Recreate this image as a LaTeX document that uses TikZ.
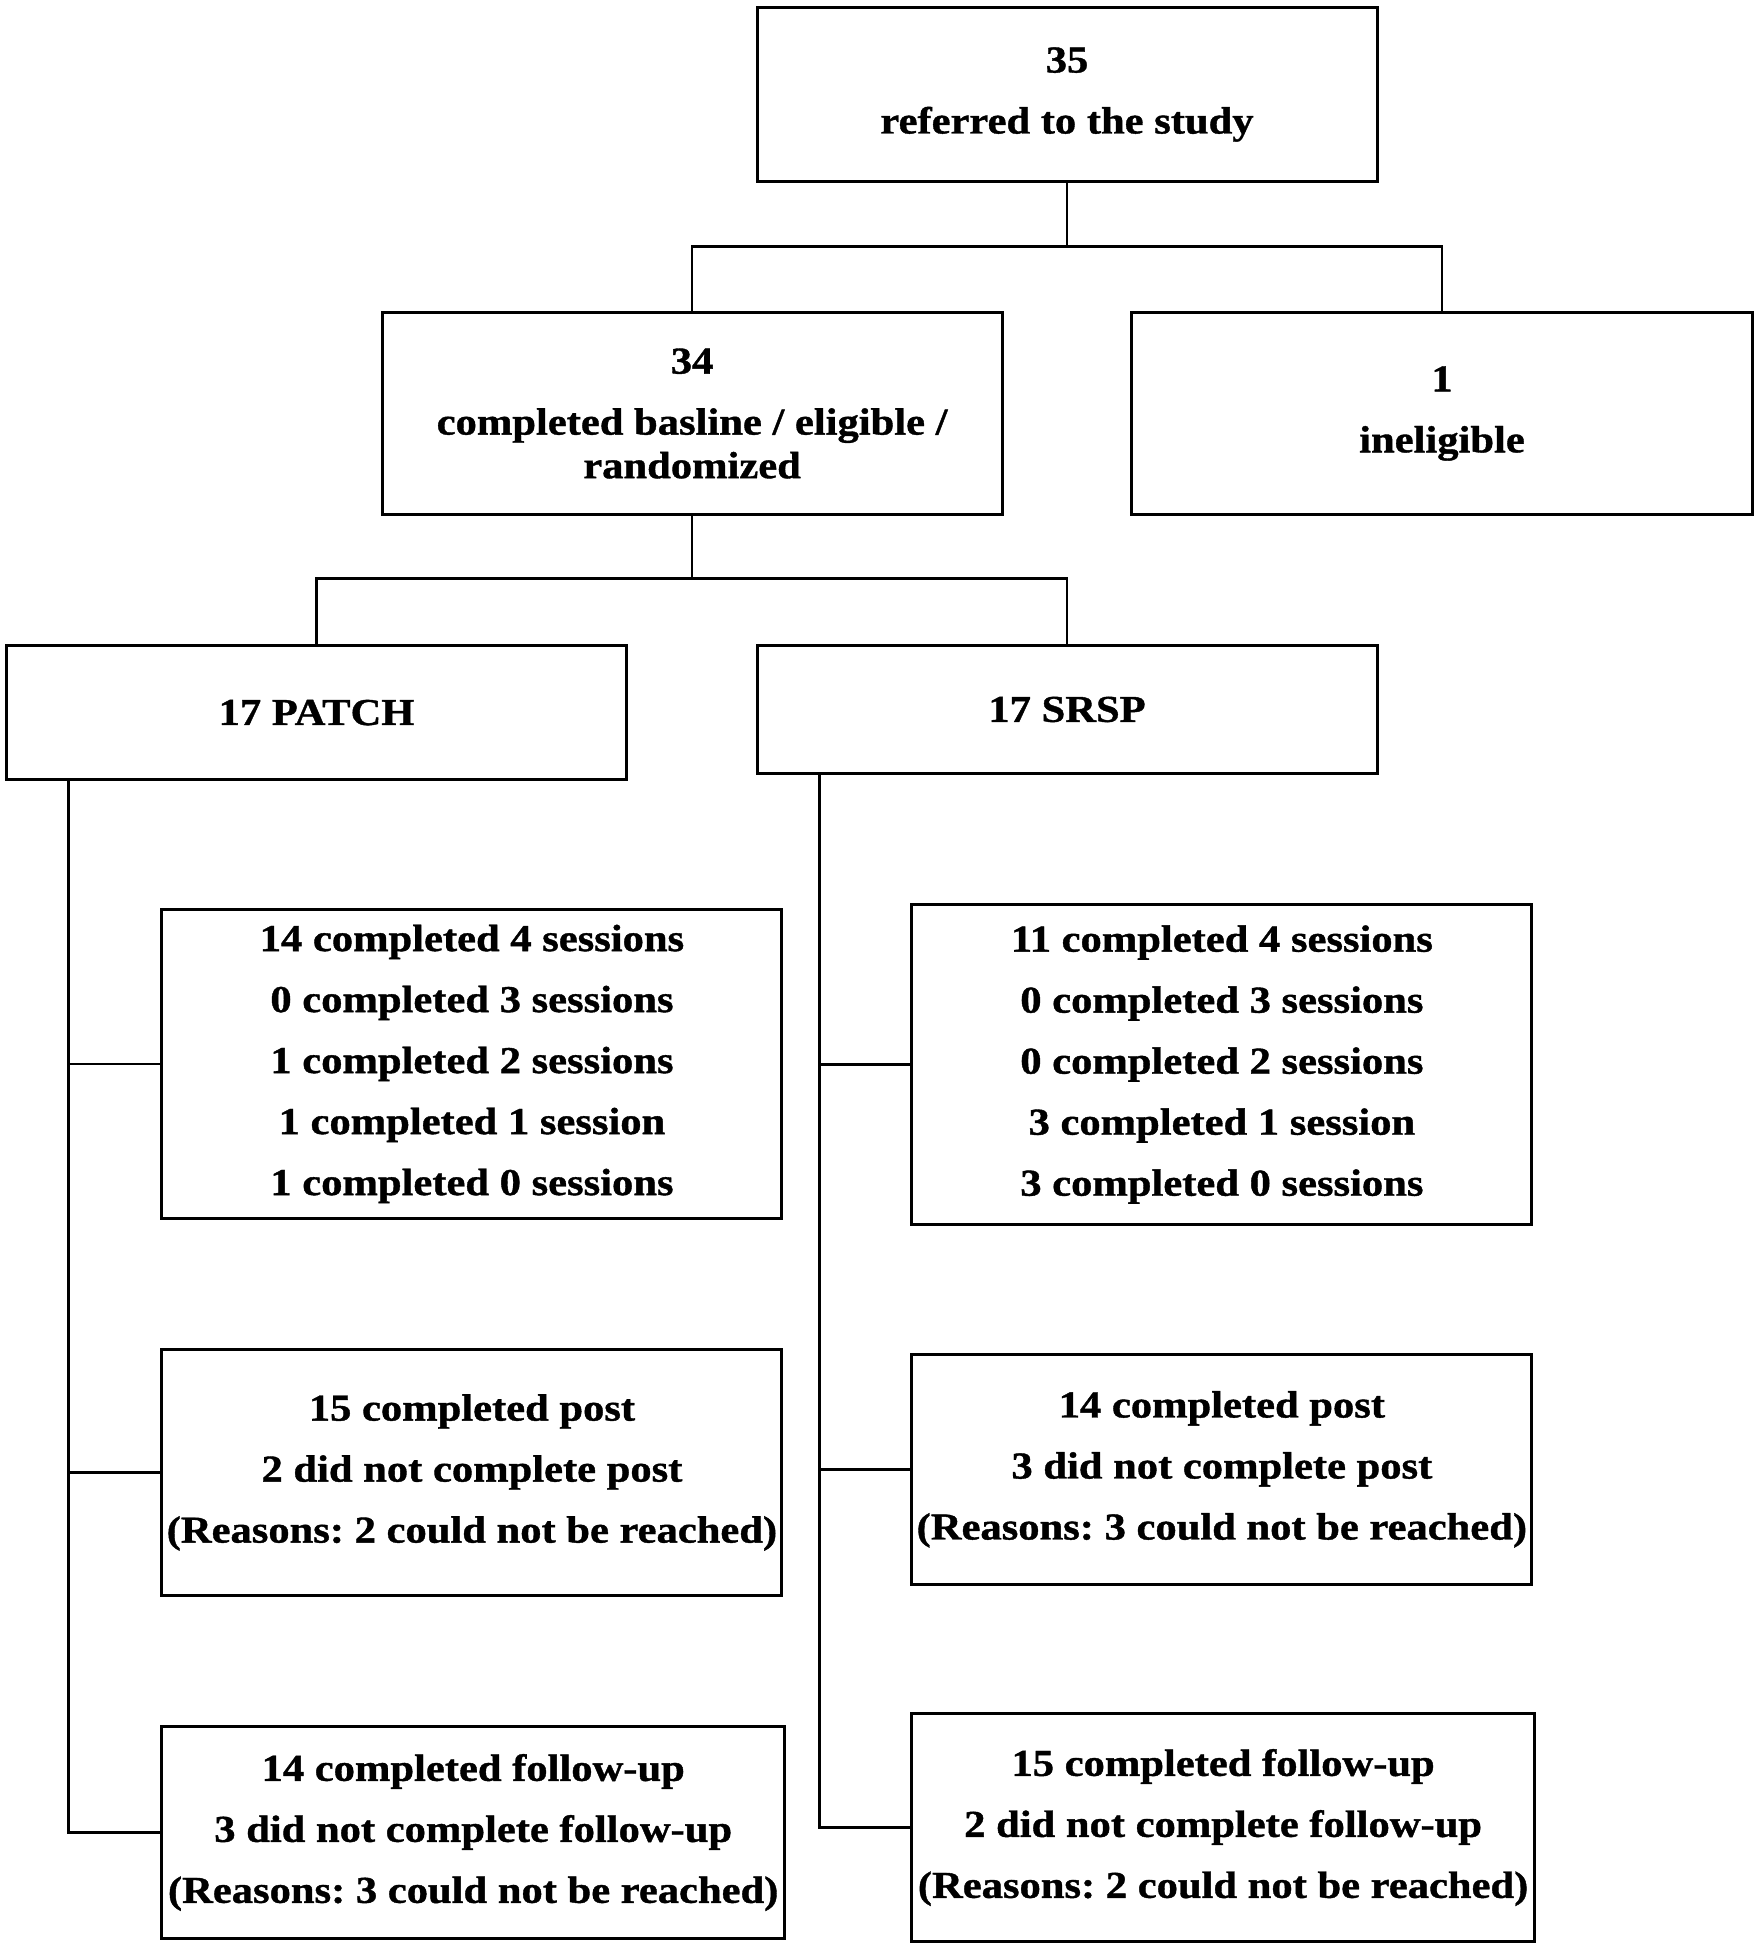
\documentclass[tikz,border=0pt]{standalone}
\usepackage{fontspec}
\setmainfont{Liberation Serif}[FakeStretch=1.12, BoldFeatures={FakeBold=1}]
\usetikzlibrary{positioning}
\frenchspacing

\tikzset{
  box/.style={draw, line width=1.5pt, inner sep=0pt, align=center,
    minimum width=310pt, font=\fontsize{19}{30.5}\selectfont\bfseries},
  link/.style={line width=1.3pt}
}

\begin{document}
\begin{tikzpicture}[x=0.6218pt, y=-0.6218pt]
\useasboundingbox (0,0) rectangle (1416,1568);

\node [box, minimum height=87pt] (refer) at (858,76) {35\\referred to the study};
\node [box, minimum height=101.4pt] (elig) at (556.5,332.5)
  {34\\completed basline / eligible /\\[-8.7pt]randomized};
\node [box, minimum height=101.4pt] (inelig) at (1159.5,332.5) {1\\ineligible};

\node [box, minimum height=67.2pt] (patch) at (254.5,573) {17 PATCH};
\node [box, minimum height=64pt] (srsp) at (858,570.5) {17 SRSP};

\node [box, minimum height=154.8pt] (psess) at (379.5,855.5)
  {14 completed 4 sessions\\0 completed 3 sessions\\1 completed 2 sessions\\1 completed 1 session\\1 completed 0 sessions};
\node [box, minimum height=123.1pt] (ppost) at (379.5,1184)
  {15 completed post\\2 did not complete post\\(Reasons: 2 could not be reached)};
\node [box, minimum height=106.3pt, minimum width=311.5pt] (pfollow) at (380.5,1473.5)
  {14 completed follow-up\\3 did not complete follow-up\\(Reasons: 3 could not be reached)};

\node [box, minimum height=160.4pt] (ssess) at (982.5,856)
  {11 completed 4 sessions\\0 completed 3 sessions\\0 completed 2 sessions\\3 completed 1 session\\3 completed 0 sessions};
\node [box, minimum height=115pt] (spost) at (982.5,1181.5)
  {14 completed post\\3 did not complete post\\(Reasons: 3 could not be reached)};
\node [box, minimum height=113.8pt, minimum width=311.5pt] (sfollow) at (983.5,1469.5)
  {15 completed follow-up\\2 did not complete follow-up\\(Reasons: 2 could not be reached)};

\coordinate (split1) at (858,198);
\coordinate (split2) at (556.5,465);
\coordinate (ltrunk) at (55,1473.5);
\coordinate (rtrunk) at (659,1469.5);

\draw [link] (refer.south) -- (split1);
\draw [link] (elig.north) |- (split1) -| (inelig.north);
\draw [link] (elig.south) -- (split2);
\draw [link] (patch.north) |- (split2) -| (srsp.north);

\draw [link] (ltrunk |- patch.south) -- (ltrunk) -- (pfollow.west);
\draw [link] (ltrunk |- psess.west) -- (psess.west);
\draw [link] (ltrunk |- ppost.west) -- (ppost.west);

\draw [link] (rtrunk |- srsp.south) -- (rtrunk) -- (sfollow.west);
\draw [link] (rtrunk |- ssess.west) -- (ssess.west);
\draw [link] (rtrunk |- spost.west) -- (spost.west);

\end{tikzpicture}
\end{document}
